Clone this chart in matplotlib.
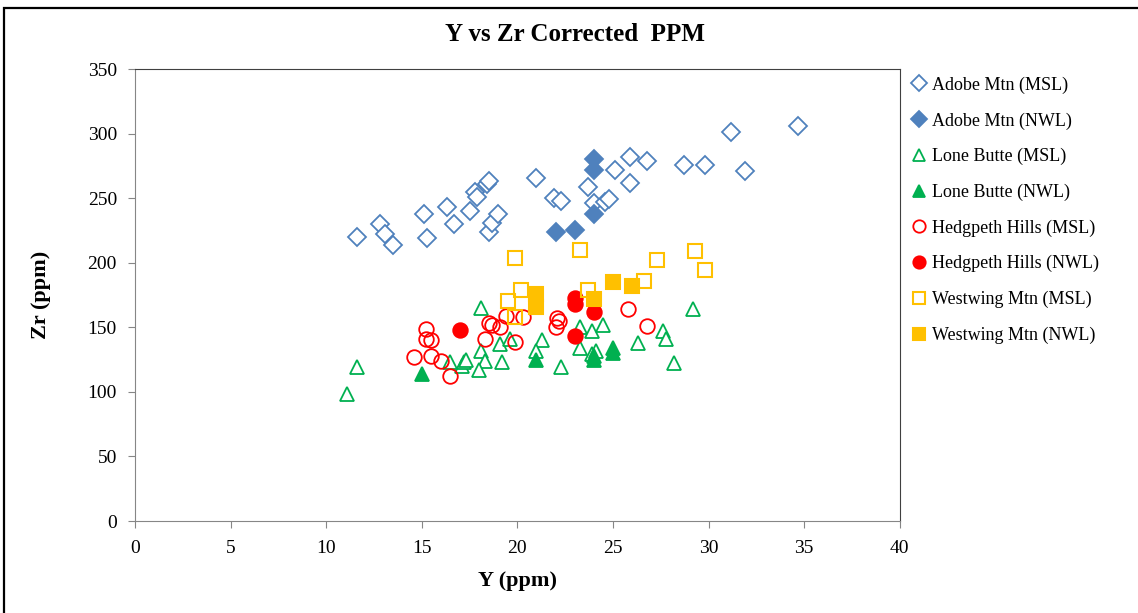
import matplotlib.pyplot as plt
from matplotlib.patches import Rectangle

# Y (ppm) / Zr (ppm)
adobe_msl_y = [11.6, 12.8, 13.1, 13.5, 15.1, 15.3, 16.3, 16.7, 17.5, 17.8, 17.9, 18.4,
               18.5, 18.5, 18.7, 19.0, 21.0, 21.9, 22.3, 23.7, 24.0, 24.6, 24.8, 25.1,
               25.9, 25.9, 26.8, 28.7, 29.8, 31.2, 31.9, 34.7]
adobe_msl_zr = [220, 230, 222, 214, 238, 219, 243, 230, 240, 255, 251, 261,
                263, 224, 231, 238, 266, 250, 248, 259, 246, 247, 249, 272,
                282, 262, 279, 276, 276, 301, 271, 306]

adobe_nwl_y = [22.0, 23.0, 24.0, 24.0, 24.0]
adobe_nwl_zr = [224, 225, 238, 272, 280]

lone_msl_y = [11.1, 11.6, 16.5, 17.1, 17.2, 17.3, 18.1, 18.1, 18.3, 18.0, 19.1, 19.2,
              19.6, 21.3, 21.0, 22.3, 23.3, 23.9, 24.5, 23.3, 23.9, 24.1, 26.3, 27.6,
              27.8, 28.2, 29.2]
lone_msl_zr = [98, 119, 123, 120, 123, 125, 165, 132, 124, 117, 137, 123,
               141, 140, 132, 119, 150, 147, 152, 134, 129, 132, 138, 147,
               141, 122, 164]

lone_nwl_y = [15.0, 21.0, 24.0, 24.0, 25.0, 25.0]
lone_nwl_zr = [114, 125, 125, 128, 130, 134]

hedg_msl_y = [14.6, 15.2, 15.2, 15.5, 15.5, 16.0, 16.5, 18.3, 18.5, 18.7, 19.1, 19.4,
              19.9, 20.3, 22.0, 22.1, 22.2, 25.8, 26.8]
hedg_msl_zr = [127, 149, 141, 140, 128, 124, 112, 141, 153, 152, 150, 159,
               139, 158, 150, 157, 155, 164, 151]

hedg_nwl_y = [17.0, 23.0, 23.0, 24.0, 23.0]
hedg_nwl_zr = [148, 173, 168, 162, 143]

west_msl_y = [19.9, 20.2, 19.5, 19.9, 23.3, 23.7, 26.6, 27.3, 29.3, 29.8]
west_msl_zr = [204, 179, 170, 158, 210, 179, 186, 202, 209, 194]

west_nwl_y = [21.0, 21.0, 25.0, 26.0, 24.0]
west_nwl_zr = [176, 166, 185, 182, 172]

plt.rcParams['font.family'] = ['Liberation Serif', 'DejaVu Serif']

fig = plt.figure(figsize=(11.38, 6.13), dpi=100)
ax = fig.add_axes([0.1186, 0.150, 0.672, 0.7374])

blue = '#4F81BD'
green = '#00B050'
red = '#FF0000'
gold = '#FFC000'

ax.plot(adobe_msl_y, adobe_msl_zr, 'D', ms=9, mfc='white', mec=blue, mew=1.3,
        ls='none', label='Adobe Mtn (MSL)')
ax.plot(adobe_nwl_y, adobe_nwl_zr, 'D', ms=9, mfc=blue, mec=blue, mew=1.3,
        ls='none', label='Adobe Mtn (NWL)')
ax.plot(lone_msl_y, lone_msl_zr, '^', ms=10.5, mfc='white', mec=green, mew=1.3,
        ls='none', label='Lone Butte (MSL)')
ax.plot(lone_nwl_y, lone_nwl_zr, '^', ms=10.5, mfc=green, mec=green, mew=1.3,
        ls='none', label='Lone Butte (NWL)')
ax.plot(hedg_msl_y, hedg_msl_zr, 'o', ms=10.5, mfc='none', mec=red, mew=1.3,
        ls='none', label='Hedgpeth Hills (MSL)')
ax.plot(hedg_nwl_y, hedg_nwl_zr, 'o', ms=10.5, mfc=red, mec=red, mew=1.3,
        ls='none', label='Hedgpeth Hills (NWL)')
ax.plot(west_msl_y, west_msl_zr, 's', ms=10, mfc='none', mec=gold, mew=1.5,
        ls='none', label='Westwing Mtn (MSL)')
ax.plot(west_nwl_y, west_nwl_zr, 's', ms=10, mfc=gold, mec=gold, mew=1.5,
        ls='none', label='Westwing Mtn (NWL)')

ax.set_xlim(0, 40)
ax.set_ylim(0, 350)
ax.set_xticks(range(0, 41, 5))
ax.set_yticks(range(0, 351, 50))
ax.tick_params(direction='out', length=5, color='#868686', labelsize=14)
ax.tick_params(axis='x', pad=9)
ax.tick_params(axis='y', pad=8)
for side in ['left', 'bottom']:
    ax.spines[side].set_color('#868686')
for side in ['top', 'right']:
    ax.spines[side].set_color('#404040')
    ax.spines[side].set_linewidth(0.8)

ax.set_xlabel('Y (ppm)', fontsize=16, fontweight='bold', labelpad=10)
ax.set_ylabel('Zr (ppm)', fontsize=16, fontweight='bold', labelpad=26)
fig.text(0.505, 0.943, 'Y vs Zr Corrected  PPM', fontsize=18, fontweight='bold',
         ha='center', va='center')

leg = ax.legend(loc='upper left', bbox_to_anchor=(0.795, 0.887),
                bbox_transform=fig.transFigure, frameon=False, fontsize=13,
                handlelength=0.8, handletextpad=0.3, labelspacing=1.02,
                markerscale=0.85, borderaxespad=0)

# outer chart frame
fig.patches.append(Rectangle((4 / 1138, -0.05), 1.1, 1 - 8 / 613 + 0.05,
                             transform=fig.transFigure, fill=False,
                             edgecolor='black', linewidth=1.6))

fig.savefig('out.png', dpi=100)
